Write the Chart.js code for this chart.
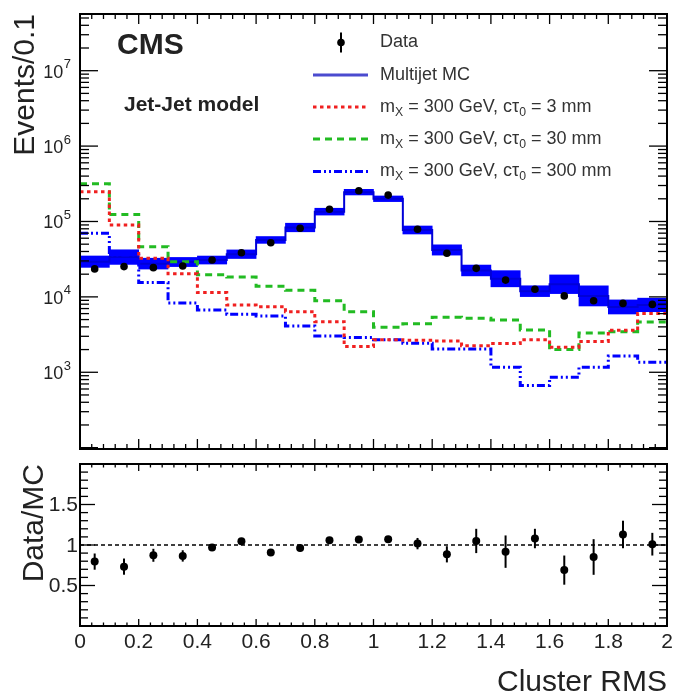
<!DOCTYPE html>
<html>
<head>
<meta charset="utf-8">
<script src="https://cdn.jsdelivr.net/npm/chart.js@4.4.1/dist/chart.umd.min.js"></script>
<style>
  html, body { margin: 0; padding: 0; background: #fff; }
  #wrap { position: relative; width: 675px; height: 693px; }
  canvas { position: absolute; left: 0; }
  #topChart { top: 0; }
  #ratioChart { top: 455px; }
</style>
</head>
<body>
<div id="wrap">
  <canvas id="topChart" width="675" height="455"></canvas>
  <canvas id="ratioChart" width="675" height="238"></canvas>
</div>
<script>
// Cluster RMS binning (low edges), width 0.1
const binLow = [0.0, 0.1, 0.2, 0.3, 0.4, 0.5, 0.6, 0.7, 0.8, 0.9, 1.0, 1.1, 1.2, 1.3, 1.4, 1.5, 1.6, 1.7, 1.8, 1.9];
const binWidth = 0.1;

// Events per bin
const dataCounts = [23500, 25200, 24400, 25700, 30800, 38500, 52300, 81300, 145000, 256000, 224000, 78900, 37900, 23900, 16700, 12600, 10300, 8900, 8200, 7950];
const mcCounts   = [29300, 33700, 27600, 29000, 30800, 36800, 56900, 83200, 135000, 245000, 200000, 77100, 41900, 22400, 17400, 11900, 14700, 10300, 7350, 7820];
const mcUnc      = [0.19, 0.25, 0.18, 0.15, 0.13, 0.14, 0.11, 0.14, 0.11, 0.09, 0.09, 0.13, 0.17, 0.18, 0.28, 0.18, 0.33, 0.36, 0.24, 0.23];
const sig3mm     = [248000, 89800, 32500, 20300, 11400, 7810, 7420, 6370, 4690, 2190, 2700, 2650, 2600, 2250, 2400, 2700, 2150, 2550, 3600, 6000];
const sig30mm    = [316000, 124000, 46400, 29300, 19700, 18300, 13800, 12200, 8900, 6370, 3950, 4400, 5350, 5200, 4940, 3640, 2000, 3320, 3460, 4650];
const sig300mm   = [69700, 36000, 15500, 8300, 6700, 5900, 5590, 4110, 3030, 2900, 2690, 2430, 2030, 2030, 1165, 670, 858, 1165, 1645, 1360];

// Data / MC
const ratio    = [0.795, 0.733, 0.873, 0.865, 0.97, 1.045, 0.906, 0.963, 1.06, 1.067, 1.07, 1.017, 0.885, 1.05, 0.918, 1.08, 0.69, 0.852, 1.13, 1.01];
const ratioErr = [0.10, 0.10, 0.08, 0.07, 0.04, 0.04, 0.04, 0.04, 0.03, 0.03, 0.03, 0.07, 0.10, 0.15, 0.20, 0.12, 0.18, 0.22, 0.17, 0.14];

// axis labels
const xTickLabels = ['0', '0.2', '0.4', '0.6', '0.8', '1', '1.2', '1.4', '1.6', '1.8', '2'];
const yExponents = [3, 4, 5, 6, 7];
const ratioTickLabels = ['0.5', '1', '1.5'];
const sigLifetimes = ['3 mm', '30 mm', '300 mm'];

const FONT = '"Liberation Sans", Arial, Helvetica, sans-serif';
const TXT = '#222';
const RED = '#f02020', GREEN = '#22bb22', BLUE = '#0000ff';
const DASH3 = [3.5, 3.5], DASH30 = [7, 5], DASH300 = [8, 3, 2, 3, 2, 3];

function stepPoints(vals) {
  const pts = binLow.map((x, i) => ({ x: x, y: vals[i] }));
  pts.push({ x: binLow[binLow.length - 1] + binWidth, y: vals[vals.length - 1] });
  return pts;
}
const centers = binLow.map(x => x + binWidth / 2);

function stepLine(label, vals, color, dash, order) {
  return {
    type: 'line', label, data: stepPoints(vals), stepped: 'before',
    borderColor: color, borderWidth: 3, borderDash: dash, pointRadius: 0,
    fill: false, order
  };
}

// frame + inward ticks (ROOT style)
const frameTicks = {
  id: 'frameTicks',
  afterDraw(chart, args, o) {
    const ctx = chart.ctx, a = chart.chartArea, xs = chart.scales.x, ys = chart.scales.y;
    ctx.save();
    ctx.strokeStyle = '#000';
    ctx.lineWidth = 1.3;
    const seg = (x1, y1, x2, y2) => { ctx.beginPath(); ctx.moveTo(x1, y1); ctx.lineTo(x2, y2); ctx.stroke(); };
    for (let i = 0; i <= 50; i++) {
      const px = xs.getPixelForValue(i * 0.04);
      const L = i % 5 === 0 ? o.xMajor : o.xMinor;
      seg(px, a.bottom, px, a.bottom - L);
      seg(px, a.top, px, a.top + L);
    }
    o.yTicks(ys).forEach(t => {
      const py = ys.getPixelForValue(t.v);
      if (py < a.top - 0.5 || py > a.bottom + 0.5) return;
      const L = t.major ? o.yMajor : o.yMinor;
      seg(a.left, py, a.left + L, py);
      seg(a.right, py, a.right - L, py);
    });
    ctx.lineWidth = 2;
    ctx.strokeRect(a.left, a.top, a.right - a.left, a.bottom - a.top);
    ctx.restore();
    if (o.labels) o.labels(chart, ctx, a, xs, ys);
  }
};

function richText(ctx, parts, x, y, size) {
  let cx = x;
  parts.forEach(p => {
    const s = p.sub ? size * 0.68 : size;
    ctx.font = s + 'px ' + FONT;
    ctx.fillText(p.t, cx, p.sub ? y + size * 0.3 : y);
    cx += ctx.measureText(p.t).width;
  });
}

function legendSample(ctx, y, color, dash, width) {
  ctx.save();
  ctx.strokeStyle = color; ctx.lineWidth = width; ctx.setLineDash(dash);
  ctx.beginPath(); ctx.moveTo(313, y); ctx.lineTo(368, y); ctx.stroke();
  ctx.restore();
}

function topLabels(chart, ctx, a, xs, ys) {
  ctx.save();
  ctx.fillStyle = TXT;
  // y tick labels 10^n
  ctx.textBaseline = 'middle';
  yExponents.forEach(e => {
    const py = ys.getPixelForValue(Math.pow(10, e));
    ctx.font = '13px ' + FONT;
    ctx.textAlign = 'right';
    ctx.fillText(String(e), 71, py - 6);
    const ew = ctx.measureText(String(e)).width;
    ctx.font = '18px ' + FONT;
    ctx.fillText('10', 71 - ew - 0.5, py + 2);
  });
  // y title
  ctx.save();
  ctx.translate(33.5, 14);
  ctx.rotate(-Math.PI / 2);
  ctx.textAlign = 'right'; ctx.textBaseline = 'alphabetic';
  ctx.font = '30px ' + FONT;
  ctx.fillText('Events/0.1', 0, 0);
  ctx.restore();
  // CMS + model
  ctx.textAlign = 'left'; ctx.textBaseline = 'alphabetic';
  ctx.font = 'bold 30px ' + FONT;
  ctx.fillText('CMS', 117, 54);
  ctx.font = 'bold 21px ' + FONT;
  ctx.fillText('Jet-Jet model', 124, 111);
  // legend
  const rows = [42.5, 75, 107, 139, 171.5];
  ctx.textBaseline = 'middle';
  ctx.fillStyle = '#000';
  ctx.beginPath(); ctx.arc(341, rows[0], 3.8, 0, Math.PI * 2); ctx.fill();
  ctx.strokeStyle = '#000'; ctx.lineWidth = 2;
  ctx.beginPath(); ctx.moveTo(341, rows[0] - 10); ctx.lineTo(341, rows[0] + 10); ctx.stroke();
  legendSample(ctx, rows[1], '#4b4bcf', [], 3);
  legendSample(ctx, rows[2], RED, DASH3, 3);
  legendSample(ctx, rows[3], GREEN, DASH30, 3);
  legendSample(ctx, rows[4], BLUE, DASH300, 3);
  ctx.fillStyle = '#333';
  ctx.font = '18px ' + FONT;
  ctx.fillText('Data', 380, rows[0]);
  ctx.fillText('Multijet MC', 380, rows[1]);
  sigLifetimes.forEach((lt, i) => {
    richText(ctx, [
      { t: 'm' }, { t: 'X', sub: true }, { t: ' = 300 GeV, c\u03C4' }, { t: '0', sub: true }, { t: ' = ' + lt }
    ], 380, rows[2 + i], 18);
  });
  ctx.restore();
}

function ratioLabels(chart, ctx, a, xs, ys) {
  ctx.save();
  ctx.fillStyle = TXT;
  ctx.font = '21px ' + FONT;
  ctx.textAlign = 'right'; ctx.textBaseline = 'middle';
  ratioTickLabels.forEach(l => ctx.fillText(l, 78, ys.getPixelForValue(parseFloat(l)) + 1));
  ctx.textAlign = 'center'; ctx.textBaseline = 'top';
  xTickLabels.forEach(l => ctx.fillText(l, xs.getPixelForValue(parseFloat(l)), a.bottom + 6));
  ctx.font = '30px ' + FONT;
  ctx.textAlign = 'right'; ctx.textBaseline = 'alphabetic';
  ctx.fillText('Cluster RMS', 667, 236);
  ctx.save();
  ctx.translate(42.5, 9);
  ctx.rotate(-Math.PI / 2);
  ctx.fillText('Data/MC', 0, 0);
  ctx.restore();
  ctx.restore();
}

const errorBars = {
  id: 'errorBars',
  beforeDatasetsDraw(chart, args, o) {
    const ctx = chart.ctx, xs = chart.scales.x, ys = chart.scales.y;
    ctx.save();
    ctx.strokeStyle = '#000'; ctx.lineWidth = 2;
    o.values.forEach((v, i) => {
      const px = xs.getPixelForValue(centers[i]);
      ctx.beginPath();
      ctx.moveTo(px, ys.getPixelForValue(v - o.errors[i]));
      ctx.lineTo(px, ys.getPixelForValue(v + o.errors[i]));
      ctx.stroke();
    });
    ctx.restore();
  }
};

const logTicks = () => {
  const t = [];
  for (let d = 1; d <= 7; d++) for (let k = 1; k <= 9; k++) t.push({ v: k * Math.pow(10, d), major: k === 1 });
  return t;
};
const ratioTicks = () => {
  const t = [];
  for (let i = 0; i <= 20; i++) t.push({ v: i * 0.1, major: i % 5 === 0 });
  return t;
};

const baseOpts = (padding) => ({
  responsive: false, animation: false, devicePixelRatio: 1, events: [],
  layout: { padding },
});

new Chart(document.getElementById('topChart'), {
  type: 'bar',
  data: {
    datasets: [
      {
        type: 'line', label: 'Data', data: centers.map((x, i) => ({ x, y: dataCounts[i] })),
        showLine: false, pointRadius: 3.8, pointBackgroundColor: '#000', pointBorderWidth: 0, order: 0
      },
      stepLine('ctau 3 mm', sig3mm, RED, DASH3, 1),
      stepLine('ctau 30 mm', sig30mm, GREEN, DASH30, 1),
      stepLine('ctau 300 mm', sig300mm, BLUE, DASH300, 1),
      {
        type: 'line', label: 'Multijet MC', data: stepPoints(mcCounts), stepped: 'before',
        borderColor: '#0000d8', borderWidth: 2, pointRadius: 0, fill: false, order: 2
      },
      {
        type: 'bar', label: 'MC unc', data: centers.map((x, i) => ({ x, y: [mcCounts[i] / (1 + mcUnc[i]), mcCounts[i] * (1 + mcUnc[i])] })),
        backgroundColor: BLUE, borderWidth: 0, borderSkipped: false,
        barPercentage: 1, categoryPercentage: 1, order: 3
      }
    ]
  },
  options: Object.assign(baseOpts({ left: 80, right: 8, top: 14, bottom: 6 }), {
    plugins: {
      legend: { display: false }, tooltip: { enabled: false },
      frameTicks: { xMajor: 10, xMinor: 5, yMajor: 18, yMinor: 9, yTicks: logTicks, labels: topLabels }
    },
    scales: {
      x: { type: 'linear', min: 0, max: 2, display: false, offset: false },
      y: { type: 'logarithmic', min: 96, max: 5.65e7, display: false }
    }
  }),
  plugins: [frameTicks]
});

new Chart(document.getElementById('ratioChart'), {
  type: 'line',
  data: {
    datasets: [
      {
        label: 'Data/MC', data: centers.map((x, i) => ({ x, y: ratio[i] })),
        showLine: false, pointRadius: 4, pointBackgroundColor: '#000', pointBorderWidth: 0, order: 0
      },
      {
        label: 'unity', data: [{ x: 0, y: 1 }, { x: 2, y: 1 }],
        borderColor: '#000', borderWidth: 1.5, borderDash: [4, 3], pointRadius: 0, order: 1
      }
    ]
  },
  options: Object.assign(baseOpts({ left: 80, right: 8, top: 9, bottom: 67 }), {
    plugins: {
      legend: { display: false }, tooltip: { enabled: false },
      errorBars: { values: ratio, errors: ratioErr },
      frameTicks: { xMajor: 7, xMinor: 3.5, yMajor: 15, yMinor: 8, yTicks: ratioTicks, labels: ratioLabels }
    },
    scales: {
      x: { type: 'linear', min: 0, max: 2, display: false },
      y: { type: 'linear', min: 0, max: 2, display: false }
    }
  }),
  plugins: [errorBars, frameTicks]
});
</script>
</body>
</html>
